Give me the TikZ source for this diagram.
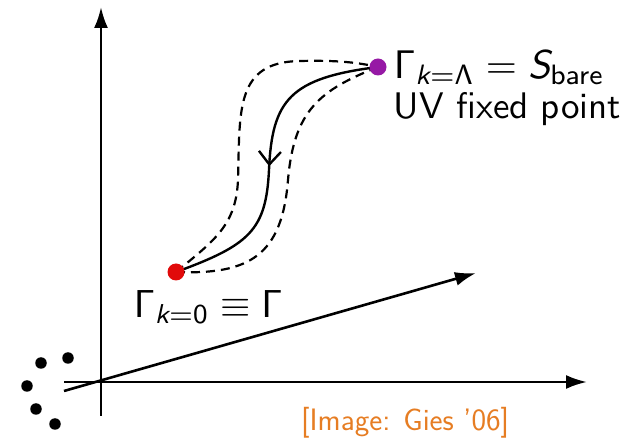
\documentclass[tikz,border=0pt]{standalone}
\usepackage{amsmath}
\usetikzlibrary{arrows.meta,decorations.markings}
\definecolor{dotred}{RGB}{225,10,10}
\definecolor{dotpurple}{RGB}{150,25,165}
\definecolor{citeorange}{RGB}{230,125,35}
\tikzset{
  axis/.style={line width=2.6pt,-{Latex[length=21pt,width=14pt]}},
  flow/.style={line width=2.4pt},
  dashflow/.style={line width=2.2pt,dash pattern=on 9pt off 6pt},
  bigdot/.style={circle,inner sep=0pt,minimum size=17pt},
  smalldot/.style={circle,fill=black,inner sep=0pt,minimum size=11.5pt},
  lbl/.style={inner sep=0pt,anchor=base west,font=\fontsize{10}{12}\selectfont\sffamily,scale=#1,transform shape},
  lbl/.default=3.9,
  cite/.style={inner sep=0pt,anchor=base west,text=citeorange,font=\fontsize{31}{37}\selectfont\sffamily},
  midarrow/.style={postaction={decorate},decoration={markings,mark=at position #1 with {\arrow{Straight Barb[length=13pt,width=22pt,line width=2.4pt]}}}}
}
\begin{document}
\begin{tikzpicture}[x=1pt,y=-1pt]
\useasboundingbox (0,0) rectangle (630,438);
% axes
\coordinate (vb) at (101,416);
\coordinate (vt) at (101,7);
\coordinate (hl) at (64,382);
\coordinate (hr) at (587,382);
\coordinate (dl) at (64,391);
\coordinate (dr) at (476,273);
\draw[axis] (vb) -- (vt);
\draw[axis] (hl) -- (hr);
\draw[axis] (dl) -- (dr);
% small dots
\node[smalldot] (d1) at (41,363) {};
\node[smalldot] (d2) at (68,358) {};
\node[smalldot] (d3) at (27,386) {};
\node[smalldot] (d4) at (36,409) {};
\node[smalldot] (d5) at (55,424) {};
% flow curves
\node[bigdot] (r) at (176,272) {};
\node[bigdot] (p) at (378,67) {};
\draw[dashflow] (r.center) .. controls (215,240) and (236,225) .. (238,180)
  .. controls (240,110) and (235,62) .. (300,61)
  .. controls (340,60) and (360,63) .. (p.center);
\draw[dashflow] (r.center) .. controls (250,275) and (282,255) .. (288,180)
  .. controls (294,110) and (320,90) .. (p.center);
\draw[flow,midarrow=0.52] (p.center) .. controls (290,78) and (272,100) .. (269,170)
  .. controls (266,230) and (250,245) .. (r.center);
\node[bigdot,fill=dotred] at (r) {};
\node[bigdot,fill=dotpurple] at (p) {};
% labels
\node[lbl=4.0] (uvl) at (393,79) {$\mathsf{\Gamma}_{\textsf{\itshape k}=\mathsf{\Lambda}} = \textsf{\itshape S}_{\textsf{bare}}$};
\node[lbl=3.7] (uv) at (393,119) {UV fixed point};
\node[lbl=3.9] (irl) at (133,318) {$\mathsf{\Gamma}_{\textsf{\itshape k}=\mathsf{0}} \equiv \mathsf{\Gamma}$};
\node[cite] (c) at (301,431) {[Image: Gies '06]};
\end{tikzpicture}
\end{document}
